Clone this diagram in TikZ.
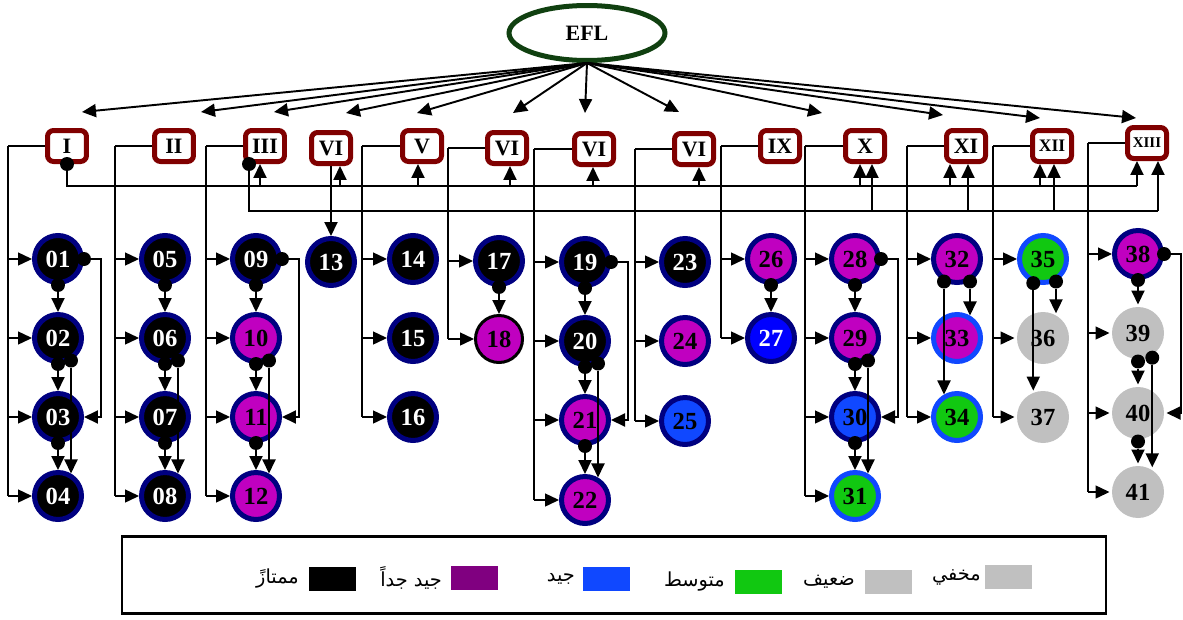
\documentclass[tikz,border=0pt]{standalone}
\usepackage{fontspec}
\setmainfont{Liberation Serif}
\newfontfamily\arabicfont[Script=Arabic]{DejaVu Sans}
\TeXXeTstate=1
\usetikzlibrary{arrows.meta,positioning,calc,shapes.geometric}
\definecolor{eflgreen}{RGB}{16,64,16}
\definecolor{boxred}{RGB}{128,0,0}
\definecolor{ringnavy}{RGB}{0,0,128}
\definecolor{vgmagenta}{RGB}{192,0,192}
\definecolor{gdblue}{RGB}{16,72,255}
\definecolor{purblue}{RGB}{0,0,255}
\definecolor{avggreen}{RGB}{17,200,17}
\definecolor{weakgray}{RGB}{192,192,192}
\definecolor{legpurple}{RGB}{128,0,128}

\tikzset{
  ball/.style={circle, inner sep=0pt, minimum size=0.94cm, line width=0.1cm, font=\fontsize{14}{14}\selectfont\bfseries},
  exc/.style={ball, draw=ringnavy, fill=black, text=white},
  vgd/.style={ball, draw=ringnavy, fill=vgmagenta},
  gd/.style={ball, draw=ringnavy, fill=gdblue},
  avg/.style={ball, draw=gdblue, fill=avggreen},
  weak/.style={ball, fill=weakgray, minimum size=1.04cm},
  roman/.style={draw=boxred, fill=white, rounded corners=0.12cm, line width=0.1cm, minimum width=0.78cm, minimum height=0.62cm, inner sep=0pt, font=\fontsize{12.5}{12.5}\selectfont\bfseries},
  bullet/.style={circle, fill=black, inner sep=0pt, minimum size=0.28cm},
  arr/.style={line width=1.1pt, -{Triangle[length=0.28cm,width=0.26cm]}},
  conn/.style={line width=1.1pt},
  trunk/.style={line width=0.8pt},
  legsq/.style={minimum width=0.94cm, minimum height=0.48cm, inner sep=0pt},
  legtxt/.style={font=\arabicfont\fontsize{11}{11}\selectfont, inner sep=0pt}
}

\begin{document}
\begin{tikzpicture}[x=0.02cm, y=-0.02cm]
    \useasboundingbox (0,0) rectangle (1183,619);

    % Root
    \node[ellipse, draw=eflgreen, line width=0.1cm, minimum width=3.12cm, minimum height=1.1cm, font=\fontsize{12.5}{12.5}\selectfont\bfseries] (efl) at (587,33) {EFL};

    % Roman boxes
    \node[roman] (bI) at (67,146) {I};
    \node[roman] (bII) at (174,146) {II};
    \node[roman] (bIII) at (265,146) {III};
    \node[roman] (bVIa) at (331,148) {VI};
    \node[roman] (bV) at (422,146) {V};
    \node[roman] (bVIb) at (507,148) {VI};
    \node[roman] (bVIc) at (594,149) {VI};
    \node[roman] (bVId) at (694,149) {VI};
    \node[roman] (bIX) at (780,146) {IX};
    \node[roman] (bX) at (865,146) {X};
    \node[roman] (bXI) at (966,146) {XI};
    \node[roman, font=\fontsize{10}{10}\selectfont\bfseries] (bXII) at (1052,146) {XII};
    \node[roman, font=\fontsize{8.5}{8.5}\selectfont\bfseries] (bXIII) at (1147,143) {XIII};

    % Arrows from the root
    \foreach \t/\x/\y in {I/82/112, II/201/112, III/274/112, VIa/346/113, V/417/113, VIb/513/113,
                          VIc/585/113, VId/679/112, X/822/113, XI/943/115, XII/1040/118, XIII/1136/118}{
        \coordinate (t\t) at (\x,\y);
        \draw[arr] (efl.south) -- (t\t);
    }

    % Circles
    \node[exc] (c01) at (58,259) {01};
    \node[exc] (c02) at (58,338) {02};
    \node[exc] (c03) at (58,417) {03};
    \node[exc] (c04) at (58,496) {04};
    \node[exc] (c05) at (165,259) {05};
    \node[exc] (c06) at (165,338) {06};
    \node[exc] (c07) at (165,417) {07};
    \node[exc] (c08) at (165,496) {08};
    \node[exc] (c09) at (256,259) {09};
    \node[vgd] (c10) at (256,338) {10};
    \node[vgd] (c11) at (256,417) {11};
    \node[vgd] (c12) at (256,496) {12};
    \node[exc] (c13) at (331,262) {13};
    \node[exc] (c14) at (413,259) {14};
    \node[exc] (c15) at (413,338) {15};
    \node[exc] (c16) at (413,417) {16};
    \node[exc] (c17) at (499,261) {17};
    \node[vgd, draw=black, line width=0.06cm] (c18) at (499,339) {18};
    \node[exc] (c19) at (585,262) {19};
    \node[exc] (c20) at (585,341) {20};
    \node[vgd] (c21) at (585,420) {21};
    \node[vgd] (c22) at (585,500) {22};
    \node[exc] (c23) at (685,262) {23};
    \node[vgd] (c24) at (685,341) {24};
    \node[gd] (c25) at (685,421) {25};
    \node[vgd] (c26) at (771,259) {26};
    \node[gd, fill=purblue, text=white] (c27) at (771,338) {27};
    \node[vgd] (c28) at (855,259) {28};
    \node[vgd] (c29) at (855,338) {29};
    \node[gd] (c30) at (855,417) {30};
    \node[avg] (c31) at (855,496) {31};
    \node[vgd] (c32) at (957,259) {32};
    \node[vgd, draw=gdblue] (c33) at (957,338) {33};
    \node[avg] (c34) at (957,417) {34};
    \node[avg] (c35) at (1043,259) {35};
    \node[weak] (c36) at (1043,338) {36};
    \node[weak] (c37) at (1043,417) {37};
    \node[vgd] (c38) at (1138,254) {38};
    \node[weak] (c39) at (1138,333) {39};
    \node[weak] (c40) at (1138,413) {40};
    \node[weak] (c41) at (1138,492) {41};

    % Trunks from boxes to circles
    \foreach \b/\x/\list in {I/8/{01,02,03,04}, II/115/{05,06,07,08}, III/206/{09,10,11,12},
                             V/362/{14,15,16}, VIb/448/{17,18}, VIc/534/{19,20,21,22},
                             VId/635/{23,24,25}, IX/721/{26,27}, X/805/{28,29,30,31},
                             XI/907/{32,33,34}, XII/993/{35,36,37}, XIII/1088/{38,39,40,41}}{
        \coordinate (k\b) at (\x,0);
        \draw[trunk] (b\b.west) -- (k\b |- b\b.west);
        \foreach \n in \list{
            \draw[trunk] (k\b |- b\b.west) -- (k\b |- c\n);
            \draw[arr, trunk] (k\b |- c\n) -- (c\n);
        }
    }
    \draw[arr] (bVIa) -- (c13);

    % Buses under the boxes
    \coordinate (busA) at (0,186);
    \coordinate (busB) at (0,211);
    \node[bullet] (sA) at (bI.south) {};
    \node[bullet] (sB) at ($(bIII.south west)+(6,0)$) {};
    \foreach \b/\dx in {III/-5, VIa/9, V/-4, VIb/3, VIc/-1, VId/5, X/-5, XI/-16, XII/-12, XIII/-10}{
        \path (b\b.south) ++(\dx,0) coordinate (a\b);
        \draw[arr] (a\b |- busA) -- (a\b);
    }
    \draw[conn] (sA.center) |- (aXIII |- busA);
    \foreach \b/\dx in {X/7, XI/2, XII/2, XIII/11}{
        \path (b\b.south) ++(\dx,0) coordinate (q\b);
        \draw[arr] (q\b |- busB) -- (q\b);
    }
    \draw[conn] (sB.center) |- (qXIII |- busB);

    % Links down the columns
    \foreach \a/\b in {01/02, 02/03, 03/04, 05/06, 06/07, 07/08, 09/10, 10/11, 11/12, 17/18,
                       19/20, 20/21, 21/22, 26/27, 28/29, 29/30, 30/31, 38/39, 39/40, 40/41}{
        \node[bullet] (d\a) at (c\a.south) {};
        \draw[arr] (d\a) -- (c\b);
    }
    % Skip links
    \foreach \a/\b in {02/04, 06/08, 10/12, 20/22, 29/31, 39/41}{
        \node[bullet] (e\a) at (c\a.-60) {};
        \draw[arr] (e\a) -- (e\a |- c\b.60);
    }
    \node[bullet] (e32) at (c32.-120) {};
    \node[bullet] (f32) at (c32.-60) {};
    \draw[arr] (f32) -- (f32 |- c33.60);
    \draw[arr] (e32) -- (e32 |- c34.120);
    \node[bullet] (e35) at (c35.-112) {};
    \node[bullet] (f35) at (c35.-60) {};
    \draw[arr] (f35) -- (f35 |- c36.60);
    \draw[arr] (e35) -- (e35 |- c37.112);

    % Right loops
    \foreach \a/\b in {01/03, 09/11, 19/21, 28/30, 38/40}{
        \node[bullet] (r\a) at (c\a.east) {};
        \draw[arr] (r\a.center) -- ++(17,0) |- (c\b);
    }

    % Legend
    \node[draw, line width=1.2pt, minimum width=19.68cm, minimum height=1.54cm, inner sep=0pt] (legend) at (614,575) {};
    \node[legsq, fill=black] (sqA) at (332,579) {};
    \node[legsq, fill=legpurple] (sqB) at (474,578) {};
    \node[legsq, fill=gdblue] (sqC) at (606,579) {};
    \node[legsq, fill=avggreen] (sqD) at (758,582) {};
    \node[legsq, fill=weakgray] (sqE) at (888,582) {};
    \node[legsq, fill=weakgray] (sqF) at (1008,577) {};
    \node[legtxt, left=0.18cm of sqA] (lgA) {\beginR ممتازً\endR};
    \node[legtxt, left=0.16cm of sqB] (lgB) {\beginR جيد جداً\endR};
    \node[legtxt, left=0.14cm of sqC] (lgC) {\beginR جيد\endR};
    \node[legtxt, left=0.18cm of sqD] (lgD) {\beginR متوسط\endR};
    \node[legtxt, left=0.18cm of sqE] (lgE) {\beginR ضعيف\endR};
    \node[legtxt, left=0.06cm of sqF] (lgF) {\beginR مخفي\endR};
\end{tikzpicture}
\end{document}
